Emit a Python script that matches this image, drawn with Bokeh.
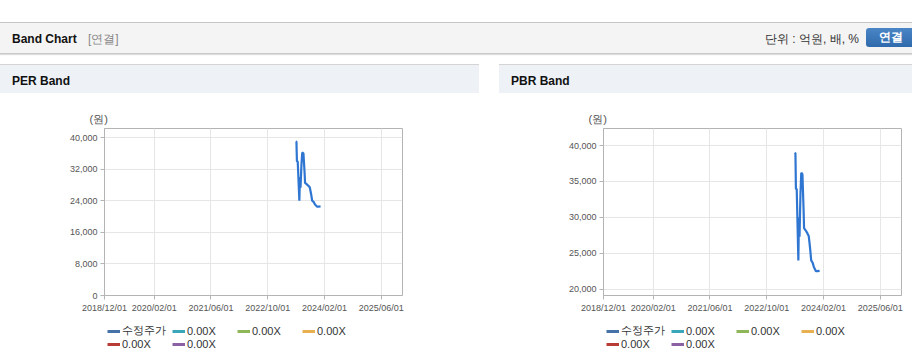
from datetime import datetime
from bokeh.plotting import figure
from bokeh.models import (FixedTicker, DatetimeTickFormatter, NumeralTickFormatter,
                          Range1d, Legend, LegendItem, Div, Spacer, ColumnDataSource)
from bokeh.layouts import column, row
from bokeh.embed import file_html
from bokeh.resources import INLINE

# ---------------- data ----------------
price_dates = ["2023/05/29", "2023/06/05", "2023/06/09", "2023/06/16", "2023/06/23",
               "2023/06/30", "2023/07/05", "2023/07/10", "2023/07/18", "2023/07/25",
               "2023/08/04", "2023/08/09", "2023/08/14", "2023/08/18", "2023/08/31",
               "2023/09/15", "2023/09/27", "2023/10/04", "2023/10/11", "2023/10/18",
               "2023/10/30", "2023/11/10", "2023/11/28", "2023/12/14", "2023/12/29"]
prices = [39000, 38900, 34000, 33900, 29000,
          24000, 30000, 27300, 33200, 36200,
          36000, 33500, 31000, 28500, 28200,
          27800, 27400, 26400, 25300, 24000,
          23700, 23100, 22500, 22500, 22600]

x_tick_labels = ["2018/12/01", "2020/02/01", "2021/06/01", "2022/10/01", "2024/02/01", "2025/06/01"]
x_start, x_end = "2018/12/01", "2025/12/01"
per_y_ticks = [0, 8000, 16000, 24000, 32000, 40000]
per_y_range = (0, 42280)
pbr_y_ticks = [20000, 25000, 30000, 35000, 40000]
pbr_y_range = (19120, 42370)

legend_labels = ["수정주가", "0.00X", "0.00X", "0.00X", "0.00X", "0.00X"]
legend_colors = ["#4572a7", "#3aa6b9", "#8fb75a", "#e8b050", "#b83b36", "#8a62a3"]
line_color = "#2e76d2"

FONT = "Liberation Sans"
NAN = float("nan")


def d(s):
    return datetime.strptime(s, "%Y/%m/%d")


def ms(s):
    return (d(s) - datetime(1970, 1, 1)).total_seconds() * 1000.0


source = ColumnDataSource(data=dict(date=[d(s) for s in price_dates], price=prices))


def band_chart(width, right_border, yr, yticks):
    p = figure(width=width, height=227, x_axis_type="datetime",
               x_range=Range1d(ms(x_start), ms(x_end)), y_range=Range1d(*yr),
               output_backend="svg", toolbar_location=None,
               min_border_left=104, min_border_right=right_border,
               min_border_top=35, min_border_bottom=25,
               background_fill_color="white", border_fill_color="white",
               outline_line_color="#b4b4b4", margin=0)
    # title as unit label
    p.title.text = "(원)"
    p.title.align = "left"
    p.title.offset = -15
    p.title.standoff = 7
    p.title.text_font = FONT
    p.title.text_font_size = "11px"
    p.title.text_font_style = "normal"
    p.title.text_color = "#555555"

    p.xaxis.ticker = FixedTicker(ticks=[ms(s) for s in x_tick_labels])
    fmt = "%Y/%m/%d"
    p.xaxis.formatter = DatetimeTickFormatter(days=fmt, months=fmt, years=fmt,
                                              hours=fmt, hourmin=fmt, minutes=fmt,
                                              minsec=fmt, seconds=fmt,
                                              milliseconds=fmt, microseconds=fmt)
    p.yaxis.ticker = FixedTicker(ticks=yticks)
    p.yaxis.formatter = NumeralTickFormatter(format="0,0")
    for ax in (p.xaxis, p.yaxis):
        ax.axis_line_color = "#b4b4b4"
        ax.major_tick_line_color = "#b4b4b4"
        ax.major_tick_out = 4
        ax.major_tick_in = 0
        ax.minor_tick_line_color = None
        ax.major_label_text_font = FONT
        ax.major_label_text_font_size = "9px"
        ax.major_label_text_color = "#555555"
        ax.major_label_standoff = 3
    p.grid.grid_line_color = "#e6e6e6"
    p.xgrid.ticker = FixedTicker(ticks=[ms(s) for s in x_tick_labels])
    p.ygrid.ticker = FixedTicker(ticks=yticks)

    p.line(x="date", y="price", source=source, line_color=line_color, line_width=2.2)
    return p


def legend_fig(width):
    p = figure(width=width, height=42, x_range=Range1d(0, 1), y_range=Range1d(0, 1),
               output_backend="svg", toolbar_location=None,
               x_axis_location=None, y_axis_location=None,
               min_border_left=103, min_border_right=0,
               min_border_top=0, min_border_bottom=0,
               background_fill_color="white", border_fill_color="white",
               outline_line_color=None, margin=0)
    p.grid.visible = False
    items = []
    for lab, col in zip(legend_labels, legend_colors):
        r = p.line(x=[NAN], y=[NAN], line_color=col, line_width=3)
        items.append(LegendItem(label=lab, renderers=[r]))
    leg = Legend(items=items, orientation="horizontal", ncols=4, location="top_left",
                 glyph_width=13, glyph_height=10, label_standoff=2, label_width=50,
                 label_height=10, spacing=0, padding=3, margin=0,
                 border_line_alpha=0, background_fill_alpha=0,
                 label_text_font=FONT, label_text_font_size="11px",
                 label_text_color="#333333")
    p.add_layout(leg, "center")
    return p


per = band_chart(479, 77, per_y_range, per_y_ticks)
pbr = band_chart(413, 11, pbr_y_range, pbr_y_ticks)

header_html = (
    '<div style="position:relative;box-sizing:border-box;width:912px;height:32px;'
    'background:#f4f4f4;border-top:1px solid #c4c4c4;border-bottom:1px solid #c8c8c8;'
    'box-shadow:0 1px 1px #dddddd;font-family:\'Liberation Sans\',sans-serif;">'
    '<span style="position:absolute;left:12px;top:8px;font-size:12px;font-weight:bold;color:#111;">Band Chart</span>'
    '<span style="position:absolute;left:88px;top:8px;font-size:12px;color:#888;">[연결]</span>'
    '<span style="position:absolute;left:765px;top:8px;font-size:12px;color:#333;">단위 : 억원, 배, %</span>'
    '<span style="position:absolute;left:866px;top:5px;width:50px;height:19px;border-radius:3px;'
    'background:linear-gradient(#4a86c6,#2f6aac);color:#fff;font-size:12px;font-weight:bold;'
    'line-height:19px;text-align:center;">연결</span>'
    '</div>'
)
header = Div(text=header_html, width=912, height=32, margin=0)


def panel_head(title, w):
    html = ('<div style="position:relative;box-sizing:border-box;width:%dpx;height:29px;'
            'background:#eef2f7;border-top:1px solid #d4d4d4;font-family:\'Liberation Sans\',sans-serif;">'
            '<span style="position:absolute;left:12px;top:8px;font-size:12px;font-weight:bold;color:#111;">%s</span>'
            '</div>') % (w, title)
    return Div(text=html, width=w, height=29, margin=0)


def bottom_line(w):
    return Div(text='<div style="width:%dpx;height:1px;background:#d4d4d4;"></div>' % w,
               width=w, height=1, margin=0)


left = column(panel_head("PER Band", 479), per, legend_fig(479), bottom_line(479),
              spacing=0, margin=0)
right = column(panel_head("PBR Band", 413), pbr, legend_fig(413), bottom_line(413),
               spacing=0, margin=0)

root = column(Spacer(width=912, height=22, margin=0), header,
              Spacer(width=912, height=10, margin=0),
              row(left, Spacer(width=20, height=10, margin=0), right, spacing=0, margin=0),
              spacing=0, margin=0)

open("out.html", "w").write(file_html(root, INLINE))
